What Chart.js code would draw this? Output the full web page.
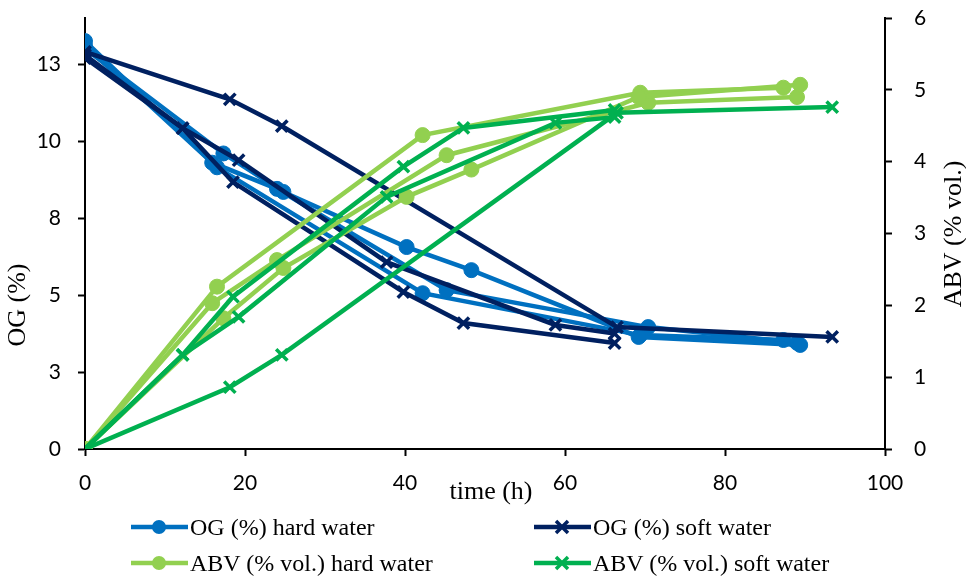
<!DOCTYPE html>
<html>
<head>
<meta charset="utf-8">
<script src="https://cdn.jsdelivr.net/npm/chart.js@4.4.1/dist/chart.umd.min.js"></script>
<style>
  body { margin: 0; background: #fff; }
  #wrap { position: relative; width: 966px; height: 579px; }
  #legend { position: absolute; left: 0; top: 0; width: 966px; height: 579px; pointer-events: none;
            font-family: "Liberation Serif", serif; font-size: 24px; color: #000; }
  .item { position: absolute; display: flex; align-items: center; height: 30px; white-space: nowrap; }
  .item svg { margin-right: 2px; }
</style>
</head>
<body>
<div id="wrap">
  <canvas id="c" width="966" height="579"></canvas>
  <div id="legend"></div>
</div>
<script>
// hard water runs: time (h), OG (%), ABV (% vol.)
const hardTime1 = [0, 16.5, 42.2, 69.4, 87.3];
const hardOG1   = [13.25, 9.15, 5.06, 3.7, 3.54];
const hardABV1  = [0, 2.26, 4.37, 4.96, 5.03];

const hardTime2 = [0, 15.9, 24, 45.2, 70.4, 89.0];
const hardOG2   = [13.1, 9.3, 8.45, 5.16, 3.96, 3.45];
const hardABV2  = [0, 2.03, 2.63, 4.09, 4.82, 4.9];

const hardTime3 = [0, 17.3, 24.8, 40.2, 48.3, 69.2, 89.4];
const hardOG3   = [13.0, 9.6, 8.35, 6.56, 5.81, 3.64, 3.38];
const hardABV3  = [0, 1.82, 2.52, 3.51, 3.89, 4.9, 5.07];

// soft water runs
const softTime1 = [0, 18.1, 24.6, 66.5, 93.4];
const softOG1   = [12.9, 11.36, 10.49, 3.96, 3.64];
const softABV1  = [0, 0.86, 1.31, 4.68, 4.76];

const softTime2 = [0, 12.2, 18.5, 39.8, 47.3, 66.2];
const softOG2   = [12.8, 10.42, 8.67, 5.1, 4.09, 3.44];
const softABV2  = [0, 1.31, 2.12, 3.93, 4.47, 4.72];

const softTime3 = [0, 12.2, 19.2, 37.7, 58.8, 66.2];
const softOG3   = [12.7, 10.42, 9.38, 6.07, 4.03, 3.75];
const softABV3  = [0, 1.31, 1.84, 3.51, 4.54, 4.62];

const seriesNames = ['OG (%) hard water', 'OG (%) soft water', 'ABV (% vol.) hard water', 'ABV (% vol.) soft water'];
const ogTickValues = [0, 2.5, 5, 7.5, 10, 12.5];
const ogTickLabels = ['0', '3', '5', '8', '10', '13'];

const colors = ['#0070C0', '#002060', '#92D050', '#00B050'];
const markers = ['circle', 'crossRot', 'circle', 'crossRot'];

function pts(t, v) {
  return t.map((x, i) => ({ x: x, y: v[i] }));
}

const groups = [
  { runs: [[hardTime1, hardOG1], [hardTime2, hardOG2], [hardTime3, hardOG3]], axis: 'y' },
  { runs: [[softTime1, softOG1], [softTime2, softOG2], [softTime3, softOG3]], axis: 'y' },
  { runs: [[hardTime1, hardABV1], [hardTime2, hardABV2], [hardTime3, hardABV3]], axis: 'y1' },
  { runs: [[softTime1, softABV1], [softTime2, softABV2], [softTime3, softABV3]], axis: 'y1' }
];

const datasets = [];
groups.forEach((g, gi) => {
  g.runs.forEach((r, ri) => {
    const cross = markers[gi] === 'crossRot';
    datasets.push({
      label: seriesNames[gi],
      data: pts(r[0], r[1]),
      yAxisID: g.axis,
      borderColor: colors[gi],
      backgroundColor: colors[gi],
      borderWidth: 4.5,
      pointStyle: markers[gi],
      pointRadius: cross ? 8 : 7.5,
      pointBorderWidth: cross ? 3.5 : 1,
      pointHoverRadius: cross ? 8 : 7.5,
      tension: 0,
      fill: false,
      order: 100 - datasets.length
    });
  });
});

const tickFont = { family: 'Lato', size: 21 };
const axisGrid = { display: true, drawOnChartArea: false, drawTicks: true, tickLength: 7, tickWidth: 2, tickColor: '#000' };
const axisBorder = { display: true, color: '#000', width: 2 };

// no extra room for overflowing tick labels, the box is fixed
function fixBox(s, w, h) {
  if (w) s.width = w;
  if (h) s.height = h;
  s.paddingTop = 0; s.paddingBottom = 0; s.paddingLeft = 0; s.paddingRight = 0;
}

const titles = {
  id: 'titles',
  afterDraw(chart) {
    const ctx = chart.ctx;
    ctx.save();
    ctx.fillStyle = '#000';
    ctx.font = '26px "Liberation Serif"';
    ctx.textAlign = 'center';
    ctx.textBaseline = 'middle';
    ctx.fillText('time (h)', 491, 492);
    ctx.translate(18, 305);
    ctx.rotate(-Math.PI / 2);
    ctx.fillText('OG (%)', 0, 0);
    ctx.restore();
    ctx.save();
    ctx.fillStyle = '#000';
    ctx.font = '26px "Liberation Serif"';
    ctx.textAlign = 'center';
    ctx.textBaseline = 'middle';
    ctx.translate(954, 234);
    ctx.rotate(-Math.PI / 2);
    ctx.fillText('ABV (% vol.)', 0, 0);
    ctx.restore();
  }
};

new Chart(document.getElementById('c'), {
  type: 'line',
  data: { datasets: datasets },
  options: {
    responsive: false,
    animation: false,
    layout: { padding: { top: 18, right: 0, bottom: 0, left: 0 } },
    plugins: { legend: { display: false }, tooltip: { enabled: false } },
    scales: {
      x: {
        type: 'linear', min: 0, max: 100,
        ticks: { stepSize: 20, font: tickFont, color: '#000', padding: 15, maxRotation: 0 },
        grid: axisGrid, border: axisBorder,
        afterFit: s => fixBox(s, 0, 130)
      },
      y: {
        position: 'left', min: 0, max: 14,
        afterBuildTicks: s => { s.ticks = ogTickValues.map(v => ({ value: v })); },
        ticks: { font: tickFont, color: '#000', padding: 17, callback: (v, i) => ogTickLabels[i] },
        grid: axisGrid, border: axisBorder,
        afterFit: s => fixBox(s, 85, 0)
      },
      y1: {
        position: 'right', min: 0, max: 6,
        ticks: { stepSize: 1, font: tickFont, color: '#000', padding: 22 },
        grid: axisGrid, border: axisBorder,
        afterFit: s => fixBox(s, 81, 0)
      }
    }
  },
  plugins: [titles]
});

// legend in 2 x 2 grid
const legendPos = [[131, 527], [534, 527], [131, 563], [534, 563]];
const legend = document.getElementById('legend');
seriesNames.forEach((name, i) => {
  const el = document.createElement('div');
  el.className = 'item';
  el.style.left = legendPos[i][0] + 'px';
  el.style.top = (legendPos[i][1] - 15) + 'px';
  const c = colors[i];
  const mark = markers[i] === 'circle'
    ? `<circle cx="28" cy="10" r="7" fill="${c}"/>`
    : `<path d="M22 4 L34 16 M34 4 L22 16" stroke="${c}" stroke-width="3.5"/>`;
  el.innerHTML = `<svg width="57" height="20"><line x1="0" y1="10" x2="57" y2="10" stroke="${c}" stroke-width="4.5"/>${mark}</svg><span>${name}</span>`;
  legend.appendChild(el);
});
</script>
</body>
</html>
